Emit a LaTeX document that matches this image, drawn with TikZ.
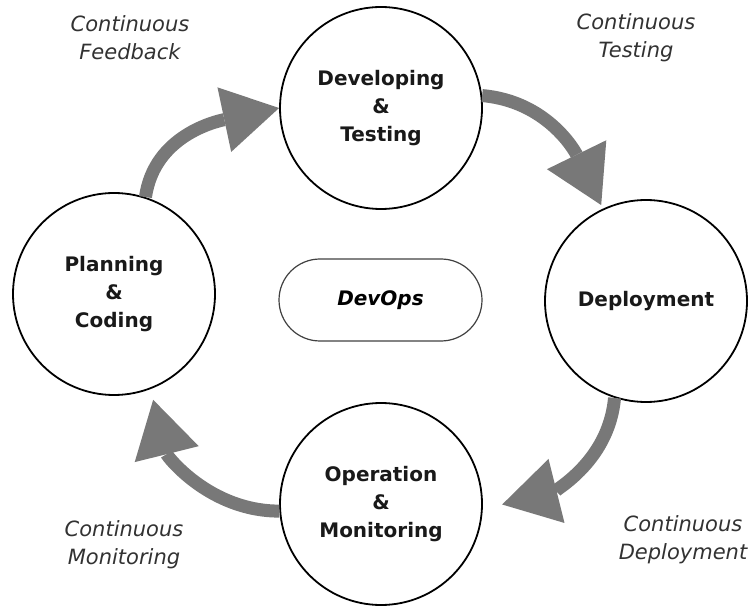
\documentclass[tikz,border=0pt]{standalone}
\usepackage{fontspec}
\setmainfont{DejaVu Sans}
\usetikzlibrary{arrows.meta}
\definecolor{flowgray}{RGB}{120,120,120}
\definecolor{captiongray}{RGB}{50,50,50}
\begin{document}
\begin{tikzpicture}[x=1pt,y=1pt,
  stage/.style={circle, draw=black, line width=1.8pt, fill=white,
    minimum size=202pt, inner sep=0pt, align=center,
    font=\fontsize{20}{28}\selectfont\bfseries, text=black!90},
  caption/.style={align=center, font=\fontsize{21}{28}\selectfont\itshape,
    text=captiongray},
  flow/.style={draw=flowgray, line width=13pt,
    -{Triangle[length=56pt,width=66pt,line width=0pt]}},
  core/.style={draw=black!75, line width=1.2pt, rounded corners=41pt,
    minimum width=203pt, minimum height=82pt,
    font=\fontsize{20}{24}\selectfont\bfseries\itshape}
]
\useasboundingbox (0,0) rectangle (751,608);

% the four stages of the cycle
\node[stage] (plan)   at (114,314) {Planning\\\&\\Coding};
\node[stage] (dev)    at (381,500) {Developing\\\&\\Testing};
\node[stage] (deploy) at (646,307) {Deployment};
\node[stage] (ops)    at (381,104) {Operation\\\&\\Monitoring};

% centre label
\node[core] (devops) at (380.5,308) {DevOps};

% captions
\node[caption] (cfeed) at (130,570) {Continuous\\Feedback};
\node[caption] (ctest) at (636,570) {Continuous\\Testing};
\node[caption] (cdepl) at (683,68)  {Continuous\\Deployment};
\node[caption] (cmon)  at (124,63)  {Continuous\\Monitoring};

% curved arrows between the stages
\draw[flow] (plan.72)   to[out=82,  in=192] (dev.180);
\draw[flow, shorten >=4pt] (dev.7) to[out=-5, in=116] (deploy.115);
\draw[flow, shorten >=20pt] (deploy.252) to[out=-95, in=14] (ops.-3);
\draw[flow, shorten >=11pt] (ops.184) to[out=180, in=-76] (plan.-69);
\end{tikzpicture}
\end{document}
